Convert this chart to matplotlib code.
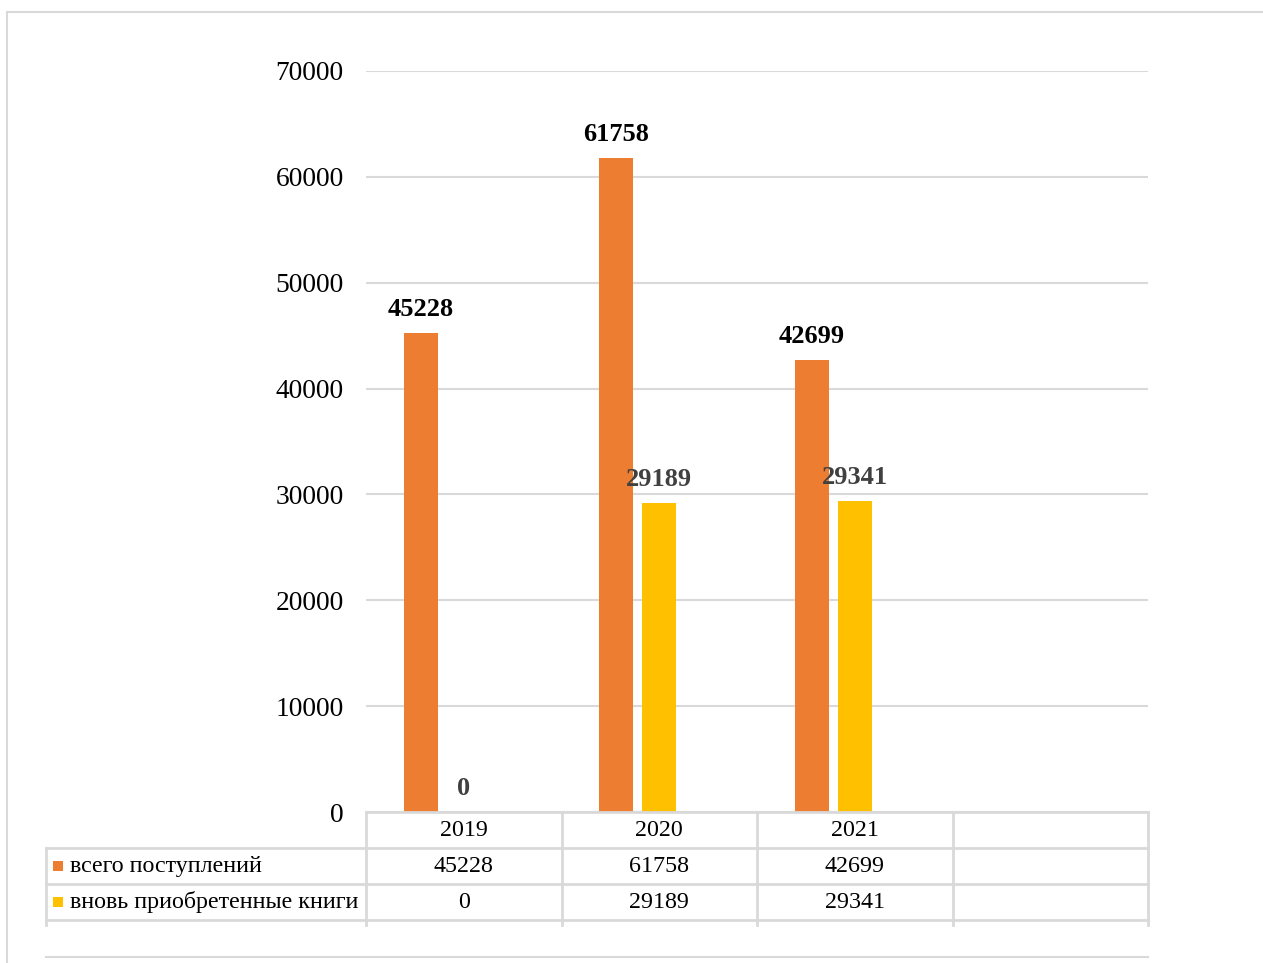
import matplotlib
matplotlib.use("Agg")
import matplotlib.pyplot as plt
from matplotlib.transforms import blended_transform_factory
from matplotlib.lines import Line2D
from matplotlib.patches import Rectangle

# ---- data ----
years = ["2019", "2020", "2021"]
series_names = ["всего поступлений", "вновь приобретенные книги"]
total_received = [45228, 61758, 42699]
newly_acquired = [0, 29189, 29341]
y_ticks = [0, 10000, 20000, 30000, 40000, 50000, 60000, 70000]

ORANGE = "#ED7D31"
YELLOW = "#FFC000"
GRID = "#D9D9D9"
W, H = 1263, 963
plt.rcParams["font.family"] = ["Liberation Serif", "DejaVu Serif"]

fig = plt.figure(figsize=(W / 100, H / 100), dpi=100)

def fx(px):
    return px / W

def fy(py):
    return 1 - py / H

# chart area border
fig.add_artist(Line2D([fx(7), fx(7)], [fy(12), fy(963)], color=GRID, lw=1.5))
fig.add_artist(Line2D([fx(7), fx(1263)], [fy(12), fy(12)], color=GRID, lw=1.5))

# plot area
L, R, T, B = 366, 1148, 71, 812
ax = fig.add_axes([fx(L), fy(B), fx(R - L), (B - T) / H])
ax.set_xlim(-0.5, 3.5)
ax.set_ylim(0, 70000)
for s in ax.spines.values():
    s.set_visible(False)
ax.set_yticks(y_ticks)
ax.set_yticklabels([str(v) for v in y_ticks], fontsize=19.8)
ax.tick_params(axis="y", length=0, pad=16)
ax.set_xticks([])
ax.yaxis.grid(True, color=GRID, lw=1.5)
ax.set_axisbelow(True)

n = len(years)
xs = list(range(n))
bw = 0.174
off = 0.22
b1 = ax.bar([x - off for x in xs], total_received, width=bw, color=ORANGE)
b2 = ax.bar(xs, newly_acquired, width=bw, color=YELLOW)

for x, v in zip(xs, total_received):
    ax.annotate(str(v), (x - off, v), xytext=(0, 9), textcoords="offset points",
                ha="center", va="bottom", fontsize=19, fontweight="bold", color="black")
for x, v in zip(xs, newly_acquired):
    ax.annotate(str(v), (x, v), xytext=(0, 9), textcoords="offset points",
                ha="center", va="bottom", fontsize=19, fontweight="bold", color="#404040")

# ---- data table ----
bt = blended_transform_factory(ax.transData, fig.transFigure)
row_y = [812, 848, 884, 920]
edges = [-0.5 + i for i in range(5)]
lw = 2
# horizontal lines
fig.add_artist(Line2D([fx(L), fx(R)], [fy(812), fy(812)], color=GRID, lw=lw))
for py in row_y[1:]:
    fig.add_artist(Line2D([fx(46), fx(R)], [fy(py), fy(py)], color=GRID, lw=lw))
# vertical lines
for e in edges:
    ax.add_artist(Line2D([e, e], [fy(812), fy(925)], color=GRID, lw=lw,
                         transform=bt, clip_on=False))
fig.add_artist(Line2D([fx(46), fx(46)], [fy(848), fy(925)], color=GRID, lw=lw))
# bottom line of chart area
fig.add_artist(Line2D([fx(46), fx(R)], [fy(957), fy(957)], color=GRID, lw=1.5))

fs_tab = 17.3
for x, yr in zip(xs, years):
    ax.text(x, fy((812 + 848) / 2), yr, transform=bt, ha="center", va="center",
            fontsize=fs_tab, color="black")
rows = [total_received, newly_acquired]
colors = [ORANGE, YELLOW]
for r, (name, vals, c) in enumerate(zip(series_names, rows, colors)):
    yc = (row_y[r + 1] + row_y[r + 2]) / 2
    for x, v in zip(xs, vals):
        ax.text(x, fy(yc), str(v), transform=bt, ha="center", va="center",
                fontsize=fs_tab, color="black")
    fig.add_artist(Rectangle((fx(53), fy(yc + 5)), fx(10), 10 / H, color=c, lw=0))
    fig.text(fx(70), fy(yc), name, ha="left", va="center", fontsize=fs_tab, color="black")

fig.savefig("out.png", dpi=100)
